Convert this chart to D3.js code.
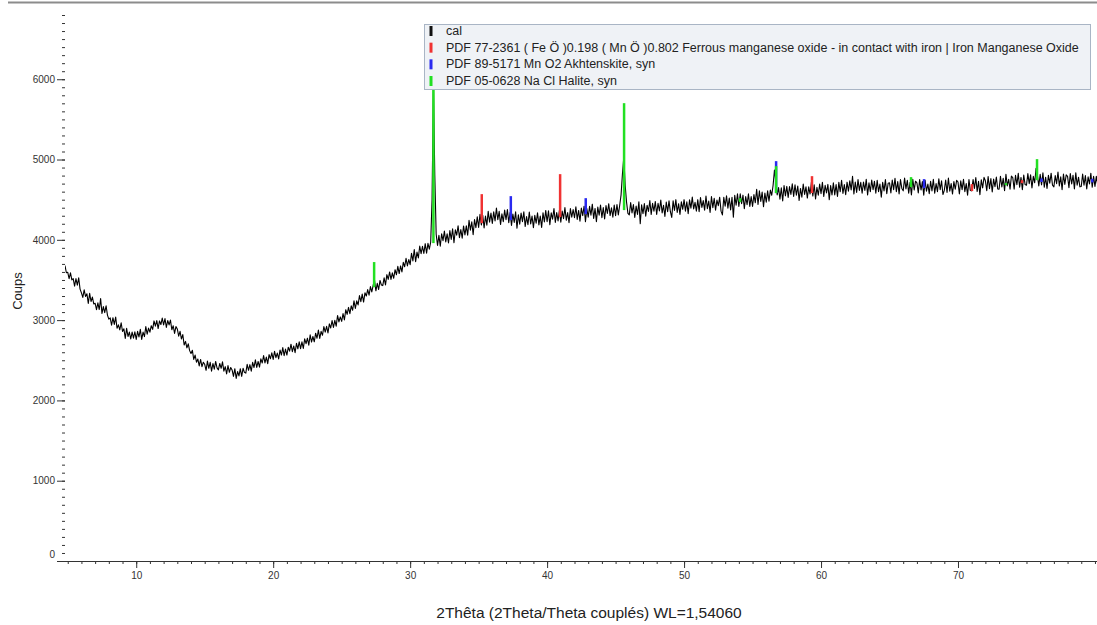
<!DOCTYPE html>
<html>
<head>
<meta charset="utf-8">
<script src="https://cdn.jsdelivr.net/npm/d3@7"></script>
<style>
  body { margin: 0; background: #fff; }
  svg text { font-family: "Liberation Sans", Arial, sans-serif; }
</style>
</head>
<body>
<div id="chart"></div>
<script>
// scan: 2theta from 4.8 deg, step 0.1 deg
const thetaStart = 4.8;
const thetaStep = 0.1;
const counts = [
  3680, 3590,
  3596, 3516, 3589, 3500, 3516, 3424, 3518, 3435, 3526, 3386,
  3339, 3283, 3377, 3294, 3328, 3209, 3333, 3232, 3287, 3201,
  3210, 3130, 3215, 3132, 3268, 3083, 3168, 3094, 3179, 3063,
  3012, 3028, 2936, 3030, 2947, 3038, 2898, 2941, 2879, 2967,
  2858, 2892, 2773, 2897, 2796, 2851, 2765, 2850, 2776, 2855,
  2760, 2860, 2790, 2885, 2760, 2850, 2795, 2920, 2825, 2900,
  2850, 2930, 2885, 2990, 2925, 2995, 2895, 2990, 2945, 3025,
  2940, 3020, 2910, 2995, 2940, 3000, 2880, 2930, 2835, 2920,
  2890, 2800, 2860, 2765, 2820, 2690, 2735, 2655, 2705, 2620,
  2585, 2625, 2510, 2565, 2475, 2515, 2430, 2510, 2420, 2475,
  2450, 2375, 2490, 2400, 2475, 2365, 2460, 2390, 2485, 2405,
  2380, 2460, 2400, 2480, 2365, 2420, 2330, 2435, 2350, 2410,
  2380, 2300, 2395, 2275, 2360, 2305, 2395, 2300, 2400, 2350,
  2340, 2450, 2375, 2445, 2365, 2475, 2410, 2505, 2410, 2485,
  2415, 2518, 2466, 2559, 2467, 2540, 2458, 2571, 2519, 2592,
  2510, 2612, 2533, 2590, 2517, 2628, 2565, 2657, 2558, 2640,
  2565, 2662, 2613, 2700, 2607, 2678, 2595, 2712, 2643, 2730,
  2645, 2729, 2648, 2767, 2706, 2775, 2689, 2818, 2727, 2796,
  2730, 2837, 2774, 2876, 2773, 2860, 2812, 2919, 2851, 2923,
  2840, 2953, 2902, 2995, 2908, 2997, 2925, 3058, 2977, 3040,
  2985, 3082, 3003, 3130, 3072, 3158, 3080, 3177, 3123, 3240,
  3145, 3240, 3190, 3305, 3230, 3325, 3225, 3340, 3300, 3380,
  3310, 3418, 3351, 3434, 3492, 3365, 3458, 3381, 3494, 3437,
  3430, 3527, 3439, 3566, 3508, 3600, 3507, 3589, 3521, 3628,
  3565, 3670, 3580, 3675, 3600, 3720, 3665, 3770, 3675, 3755,
  3690, 3833, 3737, 3880, 3728, 3847, 3775, 3923, 3827, 3920,
  3830, 3952, 3834, 3956, 3883, 3970, 4500, 5930, 4800, 4070,
  3930, 4055, 3920, 4075, 3990, 4110, 3975, 4075, 3960, 4115,
  4005, 4137, 3964, 4126, 4058, 4175, 4027, 4129, 4021, 4173,
  4060, 4174, 4058, 4242, 4121, 4225, 4064, 4253, 4152, 4286,
  4155, 4317, 4184, 4306, 4148, 4295, 4182, 4354, 4221, 4333,
  4205, 4350, 4235, 4395, 4250, 4355, 4190, 4325, 4225, 4370,
  4250, 4377, 4214, 4341, 4178, 4320, 4217, 4349, 4146, 4313,
  4195, 4333, 4226, 4349, 4167, 4290, 4188, 4346, 4199, 4297,
  4150, 4304, 4208, 4337, 4186, 4295, 4154, 4338, 4222, 4366,
  4225, 4362, 4189, 4336, 4258, 4390, 4217, 4339, 4236, 4368,
  4220, 4357, 4264, 4401, 4243, 4340, 4212, 4389, 4281, 4378,
  4275, 4412, 4254, 4366, 4233, 4395, 4302, 4419, 4226, 4388,
  4281, 4417, 4308, 4444, 4265, 4391, 4226, 4407, 4308, 4434,
  4275, 4402, 4259, 4426, 4328, 4450, 4302, 4399, 4281, 4433,
  4300, 4440, 4310, 4430, 4560, 4820, 5030, 4680, 4470, 4330,
  4310, 4465, 4335, 4440, 4280, 4420, 4315, 4475, 4200, 4435,
  4325, 4452, 4294, 4431, 4353, 4490, 4317, 4454, 4356, 4478,
  4315, 4455, 4360, 4495, 4335, 4430, 4290, 4470, 4350, 4485,
  4350, 4280, 4485, 4365, 4500, 4340, 4450, 4315, 4475, 4380,
  4500, 4357, 4474, 4326, 4498, 4395, 4532, 4384, 4466, 4358,
  4500, 4351, 4527, 4403, 4489, 4370, 4546, 4387, 4483, 4340,
  4540, 4401, 4517, 4368, 4494, 4425, 4531, 4357, 4310, 4530,
  4420, 4547, 4394, 4521, 4373, 4530, 4282, 4554, 4431, 4573,
  4415, 4572, 4449, 4556, 4388, 4540, 4437, 4574, 4416, 4538,
  4415, 4563, 4461, 4629, 4442, 4610, 4478, 4596, 4414, 4582,
  4470, 4610, 4480, 4620, 4555, 4680, 4870, 4720, 4560, 4650,
  4505, 4647, 4484, 4676, 4548, 4665, 4527, 4664, 4566, 4698,
  4540, 4685, 4555, 4670, 4490, 4640, 4530, 4695, 4565, 4660,
  4520, 4660, 4570, 4720, 4545, 4685, 4510, 4655, 4555, 4695,
  4575, 4715, 4540, 4680, 4585, 4690, 4500, 4675, 4560, 4710,
  4560, 4687, 4539, 4716, 4598, 4740, 4577, 4689, 4561, 4718,
  4605, 4735, 4620, 4790, 4570, 4720, 4590, 4750, 4615, 4715,
  4580, 4720, 4615, 4755, 4560, 4710, 4600, 4745, 4625, 4730,
  4580, 4740, 4600, 4695, 4530, 4715, 4610, 4750, 4575, 4705,
  4710, 4585, 4745, 4625, 4765, 4600, 4725, 4570, 4750, 4640,
  4610, 4770, 4635, 4740, 4580, 4715, 4560, 4755, 4620, 4730,
  4710, 4585, 4750, 4620, 4725, 4555, 4740, 4605, 4695, 4575,
  4730, 4610, 4755, 4580, 4700, 4600, 4760, 4625, 4735, 4565,
  4615, 4745, 4590, 4770, 4605, 4700, 4570, 4725, 4630, 4740,
  4720, 4570, 4735, 4625, 4755, 4600, 4700, 4555, 4750, 4615,
  4610, 4752, 4639, 4776, 4603, 4730, 4562, 4749, 4646, 4778,
  4735, 4611, 4787, 4638, 4764, 4595, 4756, 4662, 4783, 4634,
  4630, 4792, 4659, 4766, 4613, 4815, 4672, 4754, 4631, 4793,
  4775, 4632, 4804, 4686, 4828, 4655, 4777, 4624, 4806, 4688,
  4680, 4825, 4700, 4810, 4645, 4790, 4710, 4890, 4800, 4670,
  4815, 4685, 4835, 4655, 4780, 4640, 4805, 4705, 4830, 4680,
  4660, 4800, 4700, 4845, 4670, 4785, 4625, 4820, 4690, 4810,
  4790, 4650, 4825, 4695, 4805, 4635, 4835, 4680, 4780, 4660,
  4665, 4820, 4680, 4800, 4635, 4785, 4695, 4830, 4655, 4790,
  4665, 4790, 4680
];

// reference patterns: [2theta, background counts, top counts]
const sticksFeMnO = [[35.23, 4208, 4569], [40.95, 4283, 4818], [59.34, 4582, 4793], [71.02, 4607, 4694], [74.67, 4706, 4743]];
const sticksMnO2 = [[37.35, 4245, 4544], [42.82, 4320, 4519], [56.72, 4582, 4980], [67.52, 4644, 4756], [76.1, 4720, 4765], [79.8, 4715, 4760]];
const sticksHalite = [[27.37, 3411, 3723], [31.7, 3959, 6400], [45.62, 4370, 5702], [54.09, 4470, 4519], [56.72, 4582, 4918], [66.57, 4656, 4781], [73.5, 4681, 4706], [75.77, 4743, 5005]];

const legendLabels = [
  "cal",
  "PDF 77-2361 ( Fe Ö )0.198 ( Mn Ö )0.802 Ferrous manganese oxide - in contact with iron | Iron Manganese Oxide",
  "PDF 89-5171 Mn O2 Akhtenskite, syn",
  "PDF 05-0628 Na Cl Halite, syn"
];
const legendColors = ["#111111", "#f03232", "#2a2af0", "#22e022"];

const xTicks = [10, 20, 30, 40, 50, 60, 70];
const yTicks = [0, 1000, 2000, 3000, 4000, 5000, 6000];
const xLabel = "2Thêta (2Theta/Theta couplés) WL=1,54060";
const yLabel = "Coups";

const W = 1097, H = 625;
const plot = { left: 65, right: 1097.7, top: 15, bottom: 561 };

const svg = d3.select("#chart").append("svg")
  .attr("width", W)
  .attr("height", H);

const x = d3.scaleLinear().domain([4.8, 80.2]).range([plot.left, plot.right]);
const y = d3.scaleLinear().domain([0, 6800]).range([plot.bottom, plot.top]);

// frame line on top
svg.append("line")
  .attr("x1", 8).attr("x2", W)
  .attr("y1", 2.5).attr("y2", 2.5)
  .style("stroke", "#8c8c8c")
  .style("stroke-width", 2);

// x axis: minor every degree, labelled every 10
const xMinor = d3.axisBottom(x).tickValues(d3.range(5, 81)).tickSize(3).tickFormat("");
svg.append("g")
  .attr("class", "xMinor")
  .attr("transform", "translate(0," + plot.bottom + ")")
  .call(xMinor);

const xAxis = d3.axisBottom(x).tickValues(xTicks).tickSize(7).tickPadding(4).tickFormat(d => d);
svg.append("g")
  .attr("class", "xAxis")
  .attr("transform", "translate(0," + plot.bottom + ")")
  .call(xAxis);

// y axis: no spine, minor dash every 100
const yMinor = d3.axisLeft(y).tickValues(d3.range(0, 6801, 100)).tickSize(3).tickFormat("");
svg.append("g")
  .attr("class", "yMinor")
  .attr("transform", "translate(" + plot.left + ",0)")
  .call(yMinor);

const yAxis = d3.axisLeft(y).tickValues(yTicks).tickSize(8).tickPadding(2).tickFormat(d => d);
svg.append("g")
  .attr("class", "yAxis")
  .attr("transform", "translate(" + plot.left + ",0)")
  .call(yAxis);

svg.selectAll(".yMinor .domain, .yAxis .domain, .xMinor .domain").remove();
svg.selectAll(".xAxis .domain").attr("d", "M" + plot.left + ",0.5H" + W).style("stroke", "#333");
svg.selectAll(".tick line").style("stroke", "#333");
svg.selectAll(".tick text").style("font-size", "10px").style("fill", "#333");
// the 0 label sits a little above the baseline in the original
svg.selectAll(".yAxis .tick text").filter(d => d === 0).attr("dy", "-0.35em");

svg.append("text")
  .attr("x", 589)
  .attr("y", 618)
  .style("text-anchor", "middle")
  .style("font-size", "15.5px")
  .style("fill", "#222")
  .text(xLabel);

svg.append("text")
  .attr("transform", "translate(22,291) rotate(-90)")
  .style("text-anchor", "middle")
  .style("font-size", "13px")
  .style("fill", "#222")
  .text(yLabel);

svg.append("clipPath").attr("id", "plotClip")
  .append("rect")
  .attr("x", plot.left).attr("y", 0)
  .attr("width", W - plot.left).attr("height", plot.bottom);

const scan = counts.map((c, i) => ({ theta: thetaStart + i * thetaStep, c: c }));

const line = d3.line()
  .x(d => x(d.theta))
  .y(d => y(d.c));

const plotArea = svg.append("g").attr("clip-path", "url(#plotClip)");

plotArea.append("path")
  .datum(scan)
  .attr("d", line)
  .style("fill", "none")
  .style("stroke", "#000")
  .style("stroke-width", 1.1)
  .style("stroke-linejoin", "round");

const stickSets = [
  { data: sticksFeMnO, color: legendColors[1] },
  { data: sticksMnO2, color: legendColors[2] },
  { data: sticksHalite, color: legendColors[3] }
];
stickSets.forEach(s => {
  plotArea.selectAll(null).data(s.data).join("line")
    .attr("x1", d => x(d[0])).attr("x2", d => x(d[0]))
    .attr("y1", d => y(d[1])).attr("y2", d => y(d[2]))
    .style("stroke", s.color)
    .style("stroke-width", 2.5);
});

// legend
const legend = svg.append("g").attr("class", "legend");
legend.append("rect")
  .attr("x", 424.5).attr("y", 24.5)
  .attr("width", 666).attr("height", 65)
  .style("fill", "#eff2f6")
  .style("stroke", "#a9b5c5");

const rowY = d3.scalePoint().domain(d3.range(legendLabels.length)).range([31, 81]);
legend.selectAll(".legMark").data(legendLabels).join("rect")
  .attr("class", "legMark")
  .attr("x", 429.5)
  .attr("y", (d, i) => rowY(i) - 5)
  .attr("width", 3).attr("height", 10)
  .style("fill", (d, i) => legendColors[i]);

legend.selectAll(".legText").data(legendLabels).join("text")
  .attr("class", "legText")
  .attr("x", 446)
  .attr("y", (d, i) => rowY(i) + 4)
  .style("font-size", "12.5px")
  .style("fill", "#222")
  .text(d => d);
</script>
</body>
</html>
